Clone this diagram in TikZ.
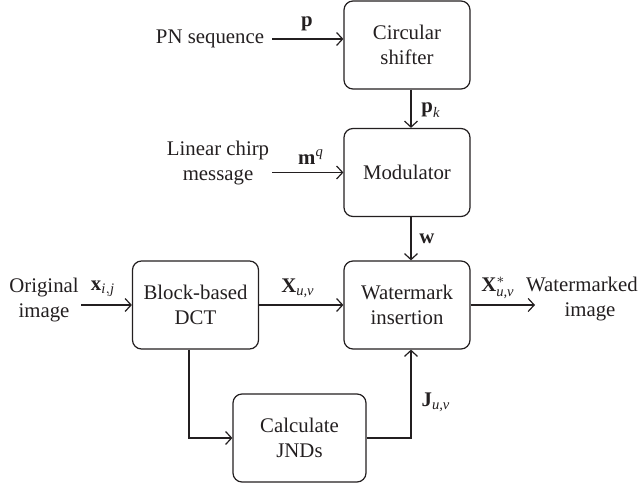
\documentclass[tikz,border=0pt]{standalone}
\usepackage{amsmath}
\usepackage{fontspec}
\setmainfont{Liberation Serif}
\usetikzlibrary{arrows.meta}
\definecolor{ink}{RGB}{35,31,32}
\newcommand{\bv}[1]{\textbf{#1}}
\newcommand{\iv}[1]{\textit{#1}}
\begin{document}
\begin{tikzpicture}[x=0.5pt,y=-0.5pt,
  every node/.style={text=ink, font=\fontsize{10.4}{12.5}\selectfont},
  blk/.style={draw=ink, line width=0.6pt, rounded corners=4.5pt, minimum width=63pt, minimum height=44pt, align=center, inner sep=0pt},
  txt/.style={align=center, inner sep=1pt},
  lab/.style={inner sep=0pt},
  conn/.style={draw=ink, line width=0.6pt, -{Straight Barb[length=3pt,width=6.5pt,line width=0.6pt]}}]
\useasboundingbox (0,0) rectangle (639,486);
% boxes
\node[blk] (cs)  at (407,45)    {Circular\\shifter};
\node[blk] (mod) at (407,172.5) {Modulator};
\node[blk] (wm)  at (407,305)   {Watermark\\insertion};
\node[blk] (dct) at (195.5,305) {Block-based\\DCT};
\node[blk, minimum width=66.5pt] (jnd) at (299.5,438) {Calculate\\JNDs};
% side texts
\node[txt] (pn)    at (210,39)  {PN sequence};
\node[txt] (chirp) at (218,163) {Linear chirp\\message};
\node[txt] (orig)  at (44,300)  {Original\\image};
\node[txt] (out)   at (582,299) {Watermarked\\\hspace*{8pt}image};
% end coordinates
\coordinate (pnA) at (272,39);
\coordinate (chA) at (272,172.5);
\coordinate (orA) at (81,305);
\coordinate (outA) at (535,305);
% connectors
\draw[conn] (pnA) -- (pnA -| cs.west);
\draw[conn] (chA) -- (mod.west);
\draw[conn] (orA) -- (dct.west);
\draw[conn] (dct.east) -- (wm.west);
\draw[conn] (wm.east) -- (outA);
\draw[conn] ([xshift=2pt]cs.south) -- ([xshift=2pt]mod.north);
\draw[conn] ([xshift=2pt]mod.south) -- ([xshift=2pt]wm.north);
\draw[conn] ([xshift=-3.25pt]dct.south) |- (jnd.west);
\draw[conn] (jnd.east) -| ([xshift=2pt]wm.south);
% labels
\node[lab] (lp)  at (307,24)  {\bv{p}};
\node[lab] (lpk) at (431,110) {$\bv{p}_{\iv{k}}$};
\node[lab] (lmq) at (311,157) {$\bv{m}^{\iv{q}}$};
\node[lab] (lw)  at (427,239) {\bv{w}};
\node[lab] (lx)  at (103,289) {$\bv{x}_{\iv{i}, \iv{j}}$};
\node[lab] (lX)  at (298,288) {$\bv{X}_{\iv{u,v}}$};
\node[lab] (lXs) at (498,288) {$\bv{X}^{*}_{\iv{u,v}}$};
\node[lab] (lJ)  at (436,402) {$\bv{J}_{\iv{u,v}}$};
\end{tikzpicture}
\end{document}
